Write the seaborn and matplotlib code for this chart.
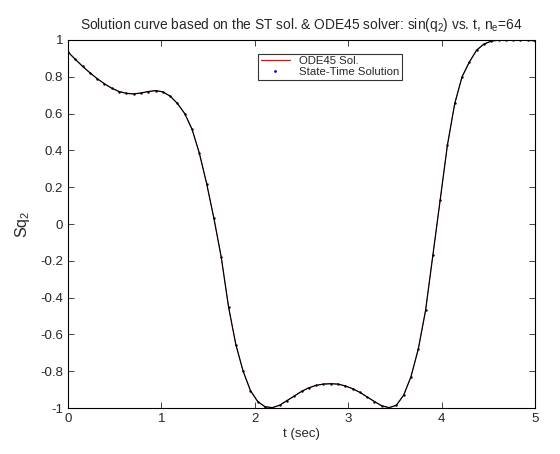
# ST solution vs ODE45 curve for sin(q2)
import numpy as np
import pandas as pd
import seaborn as sns
import matplotlib
matplotlib.use('Agg')
import matplotlib.pyplot as plt
from matplotlib.lines import Line2D

sns.set_style('ticks')
plt.rcParams['font.family'] = ['Liberation Sans', 'DejaVu Sans']
plt.rcParams['mathtext.fontset'] = 'custom'
plt.rcParams['mathtext.rm'] = 'Liberation Sans'
plt.rcParams['mathtext.it'] = 'Liberation Sans:italic'

# 65 nodes, n_e = 64 elements on [0, 5]
n_e = 64
t = np.linspace(0, 5, n_e + 1)
sq2 = [
    0.935, 0.895, 0.857, 0.822, 0.790, 0.762, 0.738, 0.720, 0.710, 0.707,
    0.712, 0.720, 0.725, 0.718, 0.695, 0.655, 0.600, 0.515, 0.385, 0.220,
    0.030, -0.180, -0.450, -0.655, -0.800, -0.905, -0.965, -0.993, -0.998, -0.985,
    -0.960, -0.935, -0.910, -0.890, -0.877, -0.870, -0.868, -0.870, -0.880, -0.895,
    -0.915, -0.940, -0.965, -0.988, -0.998, -0.985, -0.930, -0.830, -0.680, -0.470,
    -0.170, 0.130, 0.430, 0.655, 0.800, 0.880, 0.945, 0.978, 0.994, 0.999,
    1.000, 1.000, 1.000, 0.999, 0.995,
]
df = pd.DataFrame({'t': t, 'sq2': sq2})

fig = plt.figure(figsize=(5.6, 4.54), dpi=100)
ax = fig.add_axes([0.1214, 0.1013, 0.8340, 0.8106])

# ODE45 (red) underneath, state-time solution drawn on top
sns.lineplot(data=df, x='t', y='sq2', color='red', lw=0.4, ax=ax)
sns.lineplot(data=df, x='t', y='sq2', color='black', lw=0.9, ax=ax)
sns.scatterplot(data=df, x='t', y='sq2', color='black', s=3, linewidth=0, ax=ax)

ax.set_xlim(0, 5)
ax.set_ylim(-1, 1)
ax.set_xticks(np.arange(0, 6, 1))
ax.set_yticks(np.round(np.arange(-1, 1.01, 0.2), 1))
ax.set_yticklabels(['-1', '-0.8', '-0.6', '-0.4', '-0.2', '0', '0.2', '0.4', '0.6', '0.8', '1'])
ax.tick_params(direction='in', top=True, right=True, labelsize=9.5, length=4, width=0.6)
for s in ax.spines.values():
    s.set_linewidth(0.8)
    s.set_color('black')

ax.set_xlabel('t (sec)', fontsize=9.5, labelpad=2)
ax.set_ylabel(r'Sq$\mathregular{_2}$', fontsize=11.5, labelpad=6)
ax.set_title(r'Solution curve based on the ST sol. & ODE45 solver: sin(q$\mathregular{_2}$) vs. t, n$\mathregular{_e}$=64',
             fontsize=9.9, pad=8)

handles = [
    Line2D([], [], color='red', lw=0.9),
    Line2D([], [], color='blue', marker='.', markersize=2, lw=0),
]
leg = ax.legend(handles, ['ODE45 Sol.', 'State-Time Solution'], loc='upper center',
                bbox_to_anchor=(0.561, 0.962), fontsize=8.2, frameon=True, fancybox=False,
                handlelength=2.6, borderpad=0.2, labelspacing=0.1, handletextpad=0.8,
                borderaxespad=0)
leg.get_frame().set_edgecolor('black')
leg.get_frame().set_linewidth(0.8)

fig.savefig('out.png', dpi=100)
